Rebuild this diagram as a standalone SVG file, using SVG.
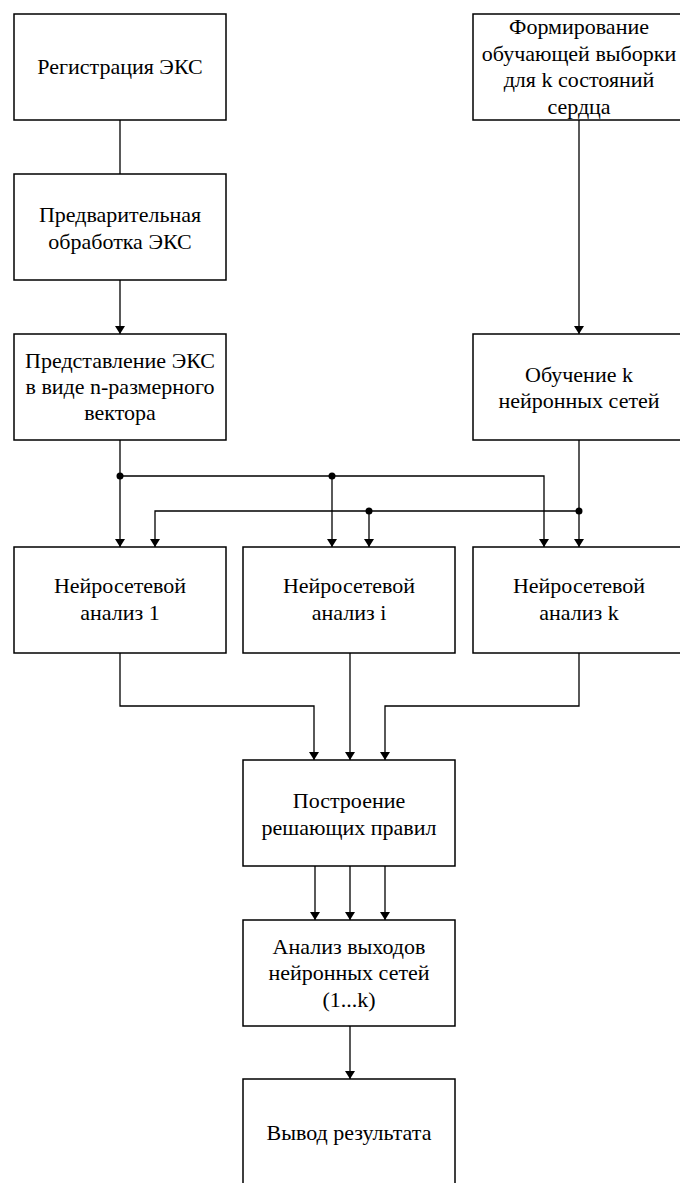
<svg xmlns="http://www.w3.org/2000/svg" width="680" height="1183" viewBox="0 0 680 1183">
<defs>
<style>
.box{fill:#fff;stroke:#000;stroke-width:1.5}
.ln{fill:none;stroke:#000;stroke-width:1.3}
.t{font-family:"Liberation Serif","Times New Roman",serif;font-size:22px;fill:#000;text-anchor:middle}
</style>
<marker id="ah" viewBox="0 0 10 10" refX="10" refY="5" markerWidth="8" markerHeight="10" markerUnits="userSpaceOnUse" orient="auto" preserveAspectRatio="none">
<path d="M0,0 L10,5 L0,10 Z" fill="#000"/>
</marker>
</defs>
<rect width="680" height="1183" fill="#fff"/>
<g id="connectors">
<path class="ln" d="M120,120 V174"/>
<path class="ln" d="M120,280 V334" marker-end="url(#ah)"/>
<path class="ln" d="M579,120 V334" marker-end="url(#ah)"/>
<path class="ln" d="M120,440 V547" marker-end="url(#ah)"/>
<path class="ln" d="M120,476 H544 V547" marker-end="url(#ah)"/>
<path class="ln" d="M332,476 V547" marker-end="url(#ah)"/>
<path class="ln" d="M579,440 V547" marker-end="url(#ah)"/>
<path class="ln" d="M579,511 H155 V547" marker-end="url(#ah)"/>
<path class="ln" d="M369,511 V547" marker-end="url(#ah)"/>
<circle cx="120" cy="476" r="3.5"/>
<circle cx="332" cy="476" r="3.5"/>
<circle cx="579" cy="511" r="3.5"/>
<circle cx="369" cy="511" r="3.5"/>
<path class="ln" d="M120,653 V706 H314 V760" marker-end="url(#ah)"/>
<path class="ln" d="M350,653 V760" marker-end="url(#ah)"/>
<path class="ln" d="M579,653 V706 H385 V760" marker-end="url(#ah)"/>
<path class="ln" d="M315,866 V920" marker-end="url(#ah)"/>
<path class="ln" d="M350,866 V920" marker-end="url(#ah)"/>
<path class="ln" d="M385,866 V920" marker-end="url(#ah)"/>
<path class="ln" d="M350,1026 V1079" marker-end="url(#ah)"/>
</g>
<g id="n1"><rect class="box" x="14" y="14" width="212" height="106"/><text class="t" x="120" y="74">Регистрация ЭКС</text></g>
<g id="n2"><rect class="box" x="14" y="174" width="212" height="106"/><text class="t" x="120" y="222">Предварительная</text><text class="t" x="120" y="249">обработка ЭКС</text></g>
<g id="n3"><rect class="box" x="14" y="334" width="212" height="106"/><text class="t" x="120" y="368">Представление ЭКС</text><text class="t" x="120" y="394">в виде n-размерного</text><text class="t" x="120" y="420">вектора</text></g>
<g id="n4"><rect class="box" x="473" y="14" width="212" height="106"/><text class="t" x="579" y="34">Формирование</text><text class="t" x="579" y="61">обучающей выборки</text><text class="t" x="579" y="87">для k состояний</text><text class="t" x="579" y="114">сердца</text></g>
<g id="n5"><rect class="box" x="473" y="334" width="212" height="106"/><text class="t" x="579" y="382">Обучение k</text><text class="t" x="579" y="408">нейронных сетей</text></g>
<g id="n6"><rect class="box" x="14" y="547" width="212" height="106"/><text class="t" x="120" y="593">Нейросетевой</text><text class="t" x="120" y="620">анализ 1</text></g>
<g id="n7"><rect class="box" x="243" y="547" width="212" height="106"/><text class="t" x="349" y="593">Нейросетевой</text><text class="t" x="349" y="620">анализ i</text></g>
<g id="n8"><rect class="box" x="473" y="547" width="212" height="106"/><text class="t" x="579" y="593">Нейросетевой</text><text class="t" x="579" y="620">анализ k</text></g>
<g id="n9"><rect class="box" x="243" y="760" width="212" height="106"/><text class="t" x="349" y="808">Построение</text><text class="t" x="349" y="835">решающих правил</text></g>
<g id="n10"><rect class="box" x="243" y="920" width="212" height="106"/><text class="t" x="349" y="954">Анализ выходов</text><text class="t" x="349" y="980">нейронных сетей</text><text class="t" x="349" y="1007">(1...k)</text></g>
<g id="n11"><rect class="box" x="243" y="1079" width="212" height="106"/><text class="t" x="349" y="1140">Вывод результата</text></g>
</svg>
